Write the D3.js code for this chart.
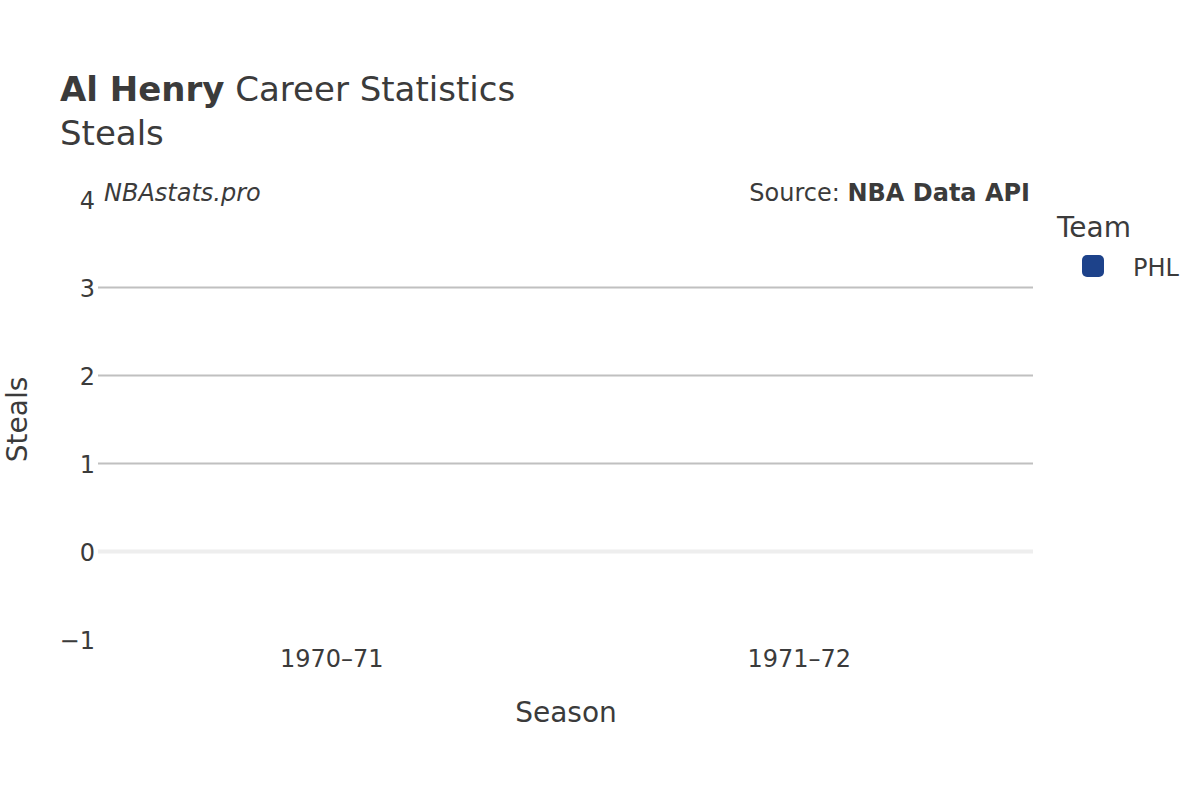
<!DOCTYPE html>
<html>
<head>
<meta charset="utf-8">
<script src="https://cdn.jsdelivr.net/npm/d3@7"></script>
<style>
  body { margin: 0; background: #fff; }
  text { font-family: "DejaVu Sans", sans-serif; fill: #3b3b3b; }
</style>
</head>
<body>
<div id="chart"></div>
<script>
// Data
const seasons = ["1970–71", "1971–72"];
const steals = [0, 0];
const teams = ["PHL"];
const teamColors = ["#1d428a"];
const yTicks = [-1, 0, 1, 2, 3, 4];

const width = 1200,
  height = 800;
const plot = { left: 98, right: 1033, top: 199.5, bottom: 639.5 };

const svg = d3.select("#chart")
  .append("svg")
  .attr("width", width)
  .attr("height", height);

const x = d3.scaleBand()
  .domain(seasons)
  .range([plot.left, plot.right])
  .paddingInner(0.2)
  .paddingOuter(0.1);

const y = d3.scaleLinear()
  .domain([-1, 4])
  .range([plot.bottom, plot.top]);

const color = d3.scaleOrdinal()
  .domain(teams)
  .range(teamColors);

// Gridlines
svg.append("g")
  .selectAll("line")
  .data(yTicks.filter(d => d !== 0 && d !== 4 && d !== -1))
  .enter()
  .append("line")
  .attr("x1", plot.left)
  .attr("x2", plot.right)
  .attr("y1", d => y(d))
  .attr("y2", d => y(d))
  .attr("stroke", "#c0c0c0")
  .attr("stroke-width", 2);

// Zero line
svg.append("line")
  .attr("x1", plot.left)
  .attr("x2", plot.right)
  .attr("y1", y(0))
  .attr("y2", y(0))
  .attr("stroke", "#eeeeee")
  .attr("stroke-width", 4);

// Bars (all zero)
svg.append("g")
  .selectAll("rect")
  .data(seasons.map((s, i) => ({ season: s, value: steals[i], team: "PHL" })))
  .enter()
  .append("rect")
  .attr("x", d => x(d.season))
  .attr("width", x.bandwidth())
  .attr("y", d => y(Math.max(0, d.value)))
  .attr("height", d => Math.abs(y(d.value) - y(0)))
  .attr("fill", d => color(d.team));

// Y axis
const yAxis = svg.append("g")
  .attr("transform", "translate(" + (plot.left - 3) + ",0)")
  .call(d3.axisLeft(y).tickValues(yTicks).tickSize(0).tickPadding(0)
    .tickFormat(d => d < 0 ? "\u2212" + Math.abs(d) : d));
yAxis.select(".domain").remove();
yAxis.selectAll("text")
  .style("font-size", "24px")
  .attr("fill", "#3b3b3b")
  .attr("dy", "0.38em");

// X axis
const xAxis = svg.append("g")
  .attr("transform", "translate(0," + plot.bottom + ")")
  .call(d3.axisBottom(x).tickSize(0).tickPadding(0));
xAxis.select(".domain").remove();
xAxis.selectAll("text")
  .style("font-size", "24px")
  .attr("fill", "#3b3b3b")
  .attr("dy", "27px");

// Titles
const title = svg.append("text")
  .attr("x", 60)
  .attr("y", 101)
  .style("font-size", "34px");
title.append("tspan").style("font-weight", "bold").text("Al Henry");
title.append("tspan").text(" Career Statistics");

svg.append("text")
  .attr("x", 60)
  .attr("y", 145)
  .style("font-size", "34px")
  .text("Steals");

// Watermark and source
svg.append("text")
  .attr("x", 104)
  .attr("y", 201)
  .style("font-size", "24px")
  .style("font-style", "italic")
  .text("NBAstats.pro");

const source = svg.append("text")
  .attr("x", 1030)
  .attr("y", 201)
  .attr("text-anchor", "end")
  .style("font-size", "24px");
source.append("tspan").text("Source: ");
source.append("tspan").style("font-weight", "bold").text("NBA Data API");

// Axis titles
svg.append("text")
  .attr("x", 566)
  .attr("y", 722)
  .attr("text-anchor", "middle")
  .style("font-size", "28px")
  .text("Season");

svg.append("text")
  .attr("transform", "translate(27," + ((plot.top + plot.bottom) / 2) + ") rotate(-90)")
  .attr("text-anchor", "middle")
  .style("font-size", "28px")
  .text("Steals");

// Legend
const legend = svg.append("g");
legend.append("text")
  .attr("x", 1057)
  .attr("y", 237)
  .style("font-size", "28px")
  .text("Team");

const items = legend.selectAll("g.item")
  .data(teams)
  .enter()
  .append("g")
  .attr("class", "item")
  .attr("transform", (d, i) => "translate(0," + (i * 30) + ")");

items.append("rect")
  .attr("x", 1082)
  .attr("y", 255)
  .attr("width", 22)
  .attr("height", 22)
  .attr("rx", 5)
  .attr("fill", d => color(d));

items.append("text")
  .attr("x", 1133)
  .attr("y", 276)
  .style("font-size", "24px")
  .text(d => d);
</script>
</body>
</html>
